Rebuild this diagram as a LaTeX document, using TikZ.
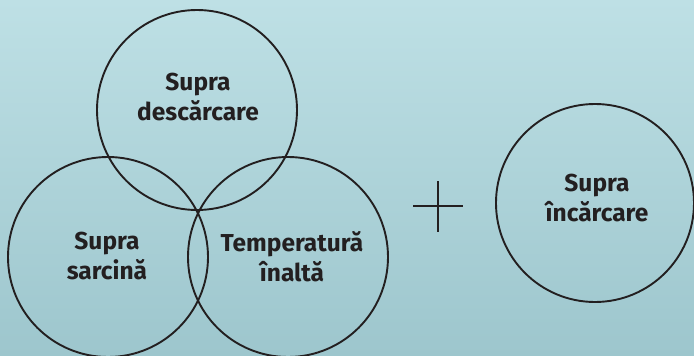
\documentclass[tikz,border=0pt]{standalone}
\usepackage{fontspec}
\setmainfont{Fira Sans}
\definecolor{ink}{RGB}{35,31,32}
\definecolor{bgtop}{RGB}{190,224,229}
\definecolor{bgbot}{RGB}{157,198,205}
\begin{document}
\begin{tikzpicture}[x=1pt,y=-1pt,
  ring/.style={circle,draw=ink,line width=1.9pt,inner sep=0pt},
  lbl/.style={text=ink,align=center,inner sep=0pt,font=\bfseries\fontsize{24.5}{30}\selectfont},
  plusline/.style={draw=ink,line width=1.7pt}]
\useasboundingbox (0,0) rectangle (694,356);
\shade[top color=bgtop,bottom color=bgbot] (0,0) rectangle (694,356);
\node[ring,minimum size=200pt] (sd) at (197,110) {};
\node[ring,minimum size=200pt] (ss) at (108,257) {};
\node[ring,minimum size=200pt] (ti) at (288,257) {};
\node[ring,minimum size=198pt] (si) at (595,203) {};
\node[lbl] (tsd) at (198,97) {Supra\\descărcare};
\node[lbl] (tss) at (107,256.5) {Supra\\sarcină};
\node[lbl] (tti) at (292,256.5) {Temperatură\\înaltă};
\node[lbl] (tsi) at (597,198.5) {Supra\\încărcare};
\coordinate (pl) at (413,206);
\coordinate (pr) at (463,206);
\coordinate (pt) at (438,181);
\coordinate (pb) at (438,232);
\draw[plusline] (pl) -- (pr);
\draw[plusline] (pt) -- (pb);
\end{tikzpicture}
\end{document}
